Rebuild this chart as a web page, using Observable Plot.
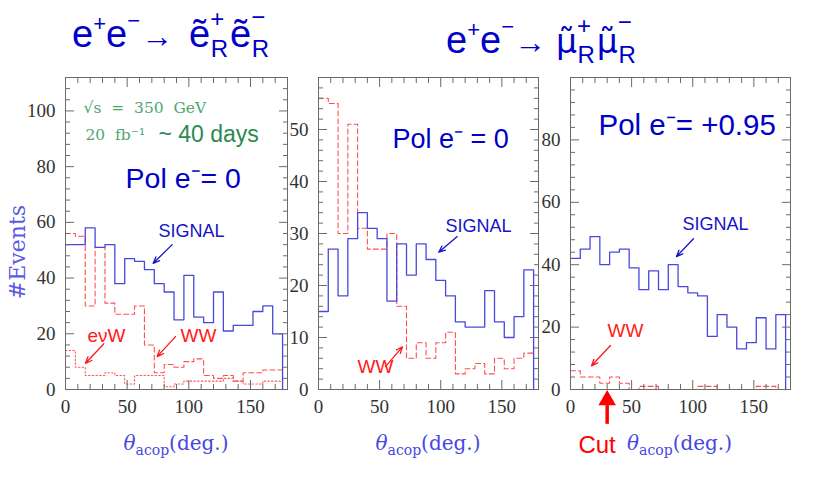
<!DOCTYPE html>
<html>
<head>
<meta charset="utf-8">
<script src="https://cdn.jsdelivr.net/npm/d3@7"></script>
<script src="https://cdn.jsdelivr.net/npm/@observablehq/plot@0.6"></script>
<style>
  body { margin: 0; background: #fff; }
  #chart { position: relative; width: 817px; height: 491px; overflow: hidden; background: #fff; }
  #chart > svg { position: absolute; top: 0; }
</style>
</head>
<body>
<div id="chart"></div>
<script>
// ---------- data ----------
const binStarts = [0, 8, 16, 24, 32, 40, 48, 56, 64, 72, 80, 88, 96, 104, 112, 120, 128, 136, 144, 152, 160, 168];
const binWidth = 8; // degrees

// e+e- -> selectron_R pair, Pol e- = 0
const selectronSignal = [52, 52, 58, 51, 52, 38, 47, 46, 43, 38, 35, 25, 41, 26, 24, 35, 21, 23, 23, 28, 30, 20];
const selectronWW     = [56, 55, 30, 51, 31, 27, 27, 30, 16, 6, 9, 8, 10, 11, 5, 4, 5, 3, 6, 6, 7, 7];
const selectronEvW    = [14, 8, 5, 5, 6, 5, 2, 5, 5, 5, 1, 2, 3, 3, 3, 3, 4, 3, 2, 2, 3, 3];

// e+e- -> smuon_R pair, Pol e- = 0
const smuonPol0Signal = [15, 27, 18, 29, 34, 31, 29, 17, 28, 22, 28, 25, 21, 18, 13, 12, 12, 19, 13, 10, 14, 23];
const smuonPol0WW     = [56, 55, 30, 51, 31, 27, 27, 30, 16, 6, 9, 6, 9, 11, 3, 4, 5, 3, 6, 4, 6, 7];

// e+e- -> smuon_R pair, Pol e- = +0.95
const smuonPol95Signal = [42, 45, 49, 40, 44, 45, 39, 32, 38, 32, 40, 33, 31, 30, 17, 24, 20, 13, 15, 23, 13, 24];
const smuonPol95WW     = [6, 4, 4, 2, 4, 2, 0, 1, 1, 0, 0, 0, 0, 1, 1, 0, 0, 0, 0, 1, 1, 0];

const cutAngle = 30; // degrees

// ticks
const xMajorTicks = [0, 50, 100, 150];
const xMinorTicks = [10, 20, 30, 40, 60, 70, 80, 90, 110, 120, 130, 140, 160, 170];
const p1YMajor = [0, 20, 40, 60, 80, 100];
const p1YMinor = d3.range(0, 112, 4).filter(v => v % 20 !== 0);
const p2YMajor = [0, 10, 20, 30, 40, 50];
const p2YMinor = d3.range(0, 60, 2).filter(v => v % 10 !== 0);
const p3YMajor = [0, 20, 40, 60, 80];
const p3YMinor = d3.range(0, 100, 4).filter(v => v % 20 !== 0);

// text
const xLabel = ["θ", "acop", "(deg.)"];
const yLabel = "#Events";

// ---------- helpers ----------
const SANS = "'Liberation Sans', Arial, Helvetica, sans-serif";
const SERIF = "'Liberation Serif', 'Times New Roman', serif";
const DSERIF = "'DejaVu Serif', serif";
const BLUE = "#0000c8";
const RED = "#ff1a1a";

function steps(values, dropToZero) {
  const pts = binStarts.map((x, i) => ({x, y: values[i]}));
  const end = binStarts[binStarts.length - 1] + binWidth;
  pts.push({x: end, y: values[values.length - 1]});
  if (dropToZero) pts.push({x: end, y: 0});
  return pts;
}

function signalLine(values) {
  return Plot.line(steps(values, true), {x: "x", y: "y", curve: "step-after", stroke: "#4848de", strokeWidth: 1.3});
}
function wwLine(values) {
  return Plot.line(steps(values, false), {x: "x", y: "y", curve: "step-after", stroke: "#ff5050", strokeWidth: 1.1, strokeDasharray: "5,3"});
}
function evwLine(values) {
  return Plot.line(steps(values, false), {x: "x", y: "y", curve: "step-after", stroke: "#ff5a5a", strokeWidth: 1.1, strokeDasharray: "1.5,2.2"});
}

function frameAndTicks(yMajor, yMinor) {
  const s = {stroke: "#6a6a6a", fill: "none"};
  return [
    Plot.frame({stroke: "#6a6a6a"}),
    Plot.axisX(xMajorTicks, {anchor: "bottom", tickSize: 9, dy: -9, ...s}),
    Plot.axisX(xMinorTicks, {anchor: "bottom", tickSize: 5, dy: -5, ...s}),
    Plot.axisX(xMajorTicks, {anchor: "top", tickSize: 9, dy: 9, ...s}),
    Plot.axisX(xMinorTicks, {anchor: "top", tickSize: 5, dy: 5, ...s}),
    Plot.axisY(yMajor, {anchor: "left", tickSize: 9, dx: 9, ...s}),
    Plot.axisY(yMinor, {anchor: "left", tickSize: 5, dx: 5, ...s}),
    Plot.axisY(yMajor, {anchor: "right", tickSize: 9, dx: -9, ...s}),
    Plot.axisY(yMinor, {anchor: "right", tickSize: 5, dx: -5, ...s}),
    Plot.axisX(xMajorTicks, {anchor: "bottom", tickSize: 0, tickPadding: 10, fontSize: 19, fontFamily: SERIF, fill: "#333", label: null}),
    Plot.axisY(yMajor, {anchor: "left", tickSize: 0, tickPadding: 10, fontSize: 19, fontFamily: SERIF, fill: "#333", label: null})
  ];
}

function label(text, x, y, opts) {
  return Plot.text([text], {x: () => x, y: () => y, text: d => d, textAnchor: "start", lineAnchor: "bottom", fontFamily: SANS, ...opts});
}
function pointer(x1, y1, x2, y2, stroke) {
  return Plot.arrow([0], {x1: () => x1, y1: () => y1, x2: () => x2, y2: () => y2, stroke, strokeWidth: 1.3, headLength: 8, headAngle: 45});
}

function panel({left, width, marginLeft, marginRight, yMax, yMajor, yMinor, marks}) {
  const svg = Plot.plot({
    width, height: 491, marginTop: 77, marginBottom: 102, marginLeft, marginRight,
    style: {background: "transparent", overflow: "visible"},
    x: {domain: [0, 180], label: null},
    y: {domain: [0, yMax], label: null},
    marks: [...marks, ...frameAndTicks(yMajor, yMinor)]
  });
  svg.style.position = "absolute";
  svg.style.left = left + "px";
  svg.style.top = "0px";
  svg.style.maxWidth = "none";
  return svg;
}

const chart = document.getElementById("chart");

// Panel 1: selectron
chart.appendChild(panel({
  left: 0, width: 300, marginLeft: 65, marginRight: 13, yMax: 112, yMajor: p1YMajor, yMinor: p1YMinor,
  marks: [
    evwLine(selectronEvW), wwLine(selectronWW), signalLine(selectronSignal),
    label("√s  =  350  GeV", 14.6, 99.4, {fontFamily: DSERIF, fontSize: 15.5, fill: "#4fa674"}),
    label("20  fb⁻¹", 16.2, 89.4, {fontFamily: DSERIF, fontSize: 15.5, fill: "#4fa674"}),
    label("~ 40 days", 75.4, 89.0, {fontSize: 23, fill: "#2a8a50"}),
    label("Pol e⁻= 0", 48.7, 72.5, {fontSize: 28.5, fill: BLUE}),
    label("SIGNAL", 75.4, 54.6, {fontSize: 18, fill: "#1414c8"}),
    pointer(86.5, 52.0, 71.1, 45.3, "#1414c8"),
    label("eνW", 17.8, 16.9, {fontSize: 19, fill: RED}),
    pointer(31.1, 16.4, 16.2, 9.4, RED),
    label("WW", 93.2, 16.9, {fontSize: 19, fill: RED}),
    pointer(89.2, 19.0, 74.3, 11.8, RED)
  ]
}));

// Panel 2: smuon, Pol 0
chart.appendChild(panel({
  left: 258, width: 293, marginLeft: 60, marginRight: 13, yMax: 60, yMajor: p2YMajor, yMinor: p2YMinor,
  marks: [
    wwLine(smuonPol0WW), signalLine(smuonPol0Signal),
    label("Pol e⁻ = 0", 60.5, 46.5, {fontSize: 27, fill: BLUE}),
    label("SIGNAL", 103.9, 30.2, {fontSize: 18, fill: "#1414c8"}),
    pointer(113.5, 29.4, 98.4, 26.4, "#1414c8"),
    label("WW", 31.9, 3.1, {fontSize: 19, fill: RED}),
    pointer(54.8, 4.4, 68.7, 8.2, RED)
  ]
}));

// Panel 3: smuon, Pol +0.95
chart.appendChild(panel({
  left: 510, width: 300, marginLeft: 60, marginRight: 20, yMax: 100, yMajor: p3YMajor, yMinor: p3YMinor,
  marks: [
    wwLine(smuonPol95WW), signalLine(smuonPol95Signal),
    label("Pol e⁻= +0.95", 22.9, 81.5, {fontSize: 29.5, fill: BLUE}),
    label("SIGNAL", 91.6, 51.0, {fontSize: 18, fill: "#1414c8"}),
    pointer(100.6, 48.3, 86.7, 42.6, "#1414c8"),
    label("WW", 30.3, 16.7, {fontSize: 19, fill: RED}),
    pointer(32.7, 14.1, 17.2, 7.6, RED),
    Plot.link([cutAngle], {x1: d => d, x2: d => d, y1: () => -11, y2: () => -5, stroke: "#ff0000", strokeWidth: 3.5}),
    Plot.dot([cutAngle], {x: d => d, y: () => -3.4, symbol: "triangle", r: 6.5, fill: "#ff0000", stroke: "none"}),
    label("Cut", 6.5, -20.2, {fontSize: 24, fill: "#ff0000"})
  ]
}));

// ---------- overlay: titles and axis labels ----------
const ov = d3.select(chart).append("svg")
  .attr("width", 817).attr("height", 491)
  .style("left", "0px").style("top", "0px");

function richTitle(x, y, pieces) {
  const t = ov.append("text").attr("x", x).attr("y", y)
    .attr("font-family", SANS).attr("font-size", 38).attr("fill", BLUE);
  for (const p of pieces) {
    const ts = t.append("tspan").text(p.t);
    if (p.s) ts.attr("font-size", p.s);
    if (p.f) ts.attr("font-family", p.f);
    if (p.x != null) ts.attr("x", p.x);
    if (p.dx) ts.attr("dx", p.dx);
    if (p.dy) ts.attr("dy", p.dy);
  }
}
// e+e- -> selectron_R+ selectron_R-
richTitle(72, 47, [
  {t: "e"}, {t: "+", s: 22, dy: -16}, {t: "e", dy: 16}, {t: "−", s: 22, dy: -19},
  {t: "→", s: 32, dy: 19, x: 141},
  {t: "ẽ", x: 189},
  {t: "+", s: 24, dy: -20}, {t: "R", s: 24, dx: -13.5, dy: 30},
  {t: "ẽ", dx: 2, dy: -10},
  {t: "−", s: 24, dy: -22}, {t: "R", s: 24, dx: -13.5, dy: 32}
]);
// e+e- -> smuon_R+ smuon_R-
richTitle(446, 53, [
  {t: "e"}, {t: "+", s: 22, dy: -16}, {t: "e", dy: 16}, {t: "−", s: 22, dy: -19},
  {t: "→", s: 32, dy: 19, x: 514},
  {t: "μ̃", f: "'DejaVu Sans', sans-serif", s: 33, x: 556},
  {t: "+", s: 24, dy: -19}, {t: "R", s: 24, dx: -13.5, dy: 29},
  {t: "μ̃", f: "'DejaVu Sans', sans-serif", s: 33, dx: 2, dy: -10},
  {t: "−", s: 24, dy: -23}, {t: "R", s: 24, dx: -13.5, dy: 33}
]);

function xAxisLabel(x, anchor) {
  const t = ov.append("text").attr("x", x).attr("y", 450)
    .attr("font-family", DSERIF).attr("font-size", 20).attr("fill", "#4848e0")
    .attr("text-anchor", anchor);
  t.append("tspan").attr("font-style", "italic").text(xLabel[0]);
  t.append("tspan").attr("font-size", 14).attr("dy", 5).text(xLabel[1]);
  t.append("tspan").attr("dy", -5).text(xLabel[2]);
}
xAxisLabel(176, "middle");
xAxisLabel(428, "middle");
xAxisLabel(627, "start");

ov.append("text")
  .attr("transform", "translate(25,252) rotate(-90)")
  .attr("text-anchor", "middle")
  .attr("font-family", DSERIF).attr("font-size", 22).attr("fill", "#5a5ae6")
  .text(yLabel);
</script>
</body>
</html>
